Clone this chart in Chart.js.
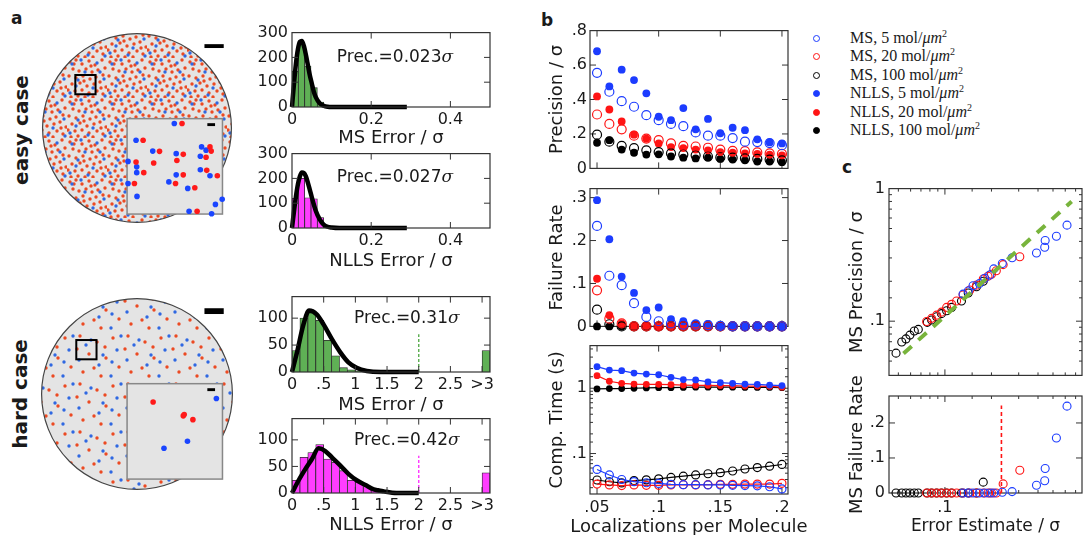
<!DOCTYPE html>
<html>
<head>
<meta charset="utf-8">
<script src="https://cdn.jsdelivr.net/npm/chart.js@4.4.0/dist/chart.umd.min.js"></script>
<style>
  html, body { margin: 0; padding: 0; background: #fff; }
  body { width: 1084px; height: 535px; overflow: hidden; position: relative; font-family: "DejaVu Sans", sans-serif; color: #1a1a1a; }
  canvas { position: absolute; }
  .panel { position: absolute; font-weight: bold; font-size: 17px; line-height: 1; }
  .case { position: absolute; font-weight: bold; font-size: 20px; white-space: nowrap; transform: translate(-50%, -50%) rotate(-90deg); }
  #legend { position: absolute; left: 810px; top: 29px; font-family: "Liberation Serif", serif; font-size: 16px; }
  #legend .row { position: relative; height: 18.4px; line-height: 18.4px; white-space: nowrap; }
  #legend .mk { position: absolute; left: 3px; top: 6px; width: 7px; height: 7px; border-radius: 50%; box-sizing: border-box; }
  #legend .tx { position: absolute; left: 40px; }
  #legend sup { font-size: 10px; vertical-align: 6px; line-height: 0; }
</style>
</head>
<body>
<div class="panel" style="left:11px;top:10px">a</div>
<div class="panel" style="left:541px;top:12px">b</div>
<div class="panel" style="left:842px;top:159px">c</div>
<div class="case" style="left:21px;top:130px">easy case</div>
<div class="case" style="left:20px;top:394px">hard case</div>
<div id="legend"></div>

<canvas id="diskEasy"></canvas>
<canvas id="diskHard"></canvas>
<canvas id="histEasyMs"></canvas>
<canvas id="histEasyNlls"></canvas>
<canvas id="histHardMs"></canvas>
<canvas id="histHardNlls"></canvas>
<canvas id="precChart"></canvas>
<canvas id="failChart"></canvas>
<canvas id="timeChart"></canvas>
<canvas id="calibChart"></canvas>
<canvas id="calibFailChart"></canvas>

<script>
// ---------- data ----------

// panel a, insets: molecule positions inside the zoomed box (0..1 of the box)
const easyInsetBlue = [[.495,.051],[.094,.226],[.269,.340],[.515,.367],[.781,.296],[.828,.330],[.768,.394],[.010,.448],[.101,.505],[.101,.566],[.515,.589],[.768,.535],[.869,.599],[.010,.680],[.438,.663],[.636,.731],[.104,.815],[.997,.845],[.926,.899],[.650,.970],[.886,.997]];
const easyInsetRed = [[.576,.051],[.168,.226],[.340,.343],[.589,.374],[.869,.296],[.882,.340],[.828,.404],[.522,.438],[.094,.455],[.279,.465],[.175,.566],[.589,.589],[.835,.542],[.946,.599],[.077,.680],[.508,.680],[.710,.724],[.734,.970]];
const hardInsetBlue = [[.936,.155],[.633,.603],[.387,.677]];
const hardInsetRed = [[.273,.192],[.589,.337],[.599,.323],[.690,.377]];

// panel a, histograms (bin centres, counts) and fitted curves
const easyBins = [0.008, 0.024, 0.040, 0.056, 0.072, 0.088, 0.104];
const easyMsCounts = [145, 255, 165, 78, 20, 4, 1];
const easyNllsCounts = [120, 200, 122, 118, 42, 10, 3];
const easyMsFitX = [0, .005, .01, .015, .02, .025, .03, .035, .04, .045, .05, .055, .06, .07, .08, .09, .1, .29];
const easyMsFitY = [0, 94, 175, 233, 263, 266, 246, 211, 170, 128, 95, 62, 40, 15, 5, 1, 0, 0];
const easyNllsFitX = [0, .005, .01, .015, .02, .025, .03, .035, .04, .045, .05, .06, .07, .08, .09, .1, .12, .29];
const easyNllsFitY = [0, 67, 128, 177, 209, 224, 222, 208, 183, 154, 124, 70, 35, 14, 5, 2, 0, 0];

const hardBins = [.0625, .1875, .3125, .4375, .5625, .6875, .8125, .9375, 1.0625, 1.1875, 1.3125];
const hardOverflowBin = 3.0625;
const hardMsCounts = [40, 100, 110, 96, 59, 30, 8, 4, 2, 1, 0];
const hardMsOverflow = 40;
const hardNllsCounts = [24, 67, 76, 91, 64, 58, 42, 24, 21, 12, 9];
const hardNllsOverflow = 38;
const hardMsFitX = [0, .08, .18, .27, .39, .5, .63, .76, .89, 1.02, 1.18, 1.4, 2];
const hardMsFitY = [0, 37, 88, 114, 107, 88, 61, 37, 18, 8, 2, 0, 0];
const hardNllsFitX = [0, .105, .21, .315, .42, .525, .63, .76, .89, 1.02, 1.16, 1.29, 1.45, 1.65, 2];
const hardNllsFitY = [0, 24, 45, 64, 84, 79, 67, 52, 36, 24, 15, 7, 3, 0, 0];
const cutoffX = 2, cutoffY = 70;

const precNotes = ['0.023', '0.027', '0.31', '0.42'];

// panel b
const locsPerMolecule = [.05, .06, .07, .08, .09, .10, .11, .12, .13, .14, .15, .16, .17, .18, .19, .20];
const seriesLabels = ['MS, 5', 'MS, 20', 'MS, 100', 'NLLS, 5', 'NLLS, 20', 'NLLS, 100'];

const precMs5 = [.555, .445, .39, .358, .309, .28, .258, .245, .209, .19, .19, .176, .155, .153, .147, .135];
const precMs20 = [.313, .258, .227, .19, .173, .164, .145, .131, .127, .12, .109, .102, .1, .093, .087, .084];
const precMs100 = [.196, .155, .131, .118, .105, .095, .087, .08, .076, .069, .064, .062, .058, .055, .051, .047];
const precNlls5 = [.68, .476, .573, .513, .436, .30, .28, .35, .227, .287, .204, .236, .222, .169, .151, .145];
const precNlls20 = [.418, .342, .273, .196, .173, .145, .124, .118, .109, .105, .095, .091, .087, .084, .08, .076];
const precNlls100 = [.149, .164, .109, .091, .08, .082, .069, .062, .058, .062, .055, .051, .047, .04, .04, .036];

const failMs5 = [.234, .118, .096, .054, .022, .012, .007, .004, .004, .003, .001, 0, 0, 0, 0, 0];
const failMs20 = [.084, .018, .007, 0, 0, 0, 0, 0, 0, 0, 0, 0, 0, 0, 0, 0];
const failMs100 = [.039, .005, 0, 0, 0, 0, 0, 0, 0, 0, 0, 0, 0, 0, 0, 0];
const failNlls5 = [.294, .203, .116, .078, .038, .044, .017, .012, .007, .006, .001, .002, 0, .001, 0, 0];
const failNlls20 = [.111, .026, .007, .001, .001, 0, 0, 0, 0, 0, 0, 0, 0, 0, 0, 0];
const failNlls100 = [0, 0, 0, 0, 0, 0, 0, 0, 0, 0, 0, 0, 0, 0, 0, 0];

const timeMs5 = [.057, .047, .040, .0371, .0357, .0349, .0338, .0334, .0334, .033, .033, .0326, .0323, .032, .031, .0287];
const timeMs20 = [.0341, .033, .0323, .033, .0326, .0326, .033, .0334, .033, .0334, .0338, .0338, .0341, .0341, .0341, .035];
const timeMs100 = [.0393, .037, .0355, .0385, .0395, .041, .043, .045, .047, .049, .051, .054, .058, .061, .064, .068];
const timeNlls5 = [2.14, 1.9, 1.86, 1.71, 1.65, 1.61, 1.47, 1.36, 1.34, 1.25, 1.22, 1.19, 1.16, 1.15, 1.12, 1.1];
const timeNlls20 = [1.56, 1.28, 1.19, 1.16, 1.15, 1.15, 1.14, 1.12, 1.11, 1.11, 1.1, 1.1, 1.08, 1.08, 1.07, 1.04];
const timeNlls100 = [.977, .99, .99, 1.0, 1.01, 1.02, 1.02, 1.03, 1.04, 1.04, 1.04, 1.04, 1.03, 1.03, 1.03, 1.02];

// panel c
const errEstMs5 = [.131, .1415, .152, .167, .181, .195, .207, .235, .272, .391, .442, .445, .526, .616];
const calPrecMs5 = [.16, .169, .185, .192, .211, .223, .248, .272, .301, .327, .361, .406, .437, .53];
const calFailMs5 = [0, 0, 0, 0, 0, 0, 0, .002, .004, .022, .035, .07, .157, .248];
const errEstMs20 = [.0762, .082, .0884, .095, .1026, .1105, .119, .131, .145, .16, .177, .19, .2, .215, .238, .305];
const calPrecMs20 = [.0995, .105, .111, .117, .127, .134, .142, .158, .172, .187, .208, .218, .226, .24, .267, .306];
const calFailMs20 = [0, 0, 0, 0, 0, 0, 0, 0, 0, 0, 0, 0, 0, 0, .026, .065];
const errEstMs100 = [.0483, .0526, .056, .0594, .0634, .0673, .0769, .082, .0884, .095, .1026, .1105, .128, .1415, .16, .177];
const calPrecMs100 = [.0574, .0697, .0735, .0785, .0844, .0867, .098, .102, .108, .114, .12, .127, .142, .163, .182, .2];
const calFailMs100 = [0, 0, 0, 0, 0, 0, 0, 0, 0, 0, 0, 0, 0, 0, 0, .031];
const guideX = [.054, .66];
const guideY = [.057, .80];
const failCutX = .232, failCutY = .25;

// ---------- styling ----------
const BLUE = '#1c3cff', RED = '#ff1414', BLACK = '#000000';
const GREEN_BAR = '#5fb055', MAGENTA_BAR = '#ff3dff', GUIDE_GREEN = '#78b43c';
const INK = '#1a1a1a';
const seriesColors = [BLUE, RED, BLACK, BLUE, RED, BLACK];

Chart.defaults.font.family = '"DejaVu Sans", sans-serif';
Chart.defaults.color = INK;
Chart.defaults.animation = false;

const pts = (xs, ys) => xs.map((x, i) => ({ x, y: ys[i] }));
const fmtDot = v => v === 0 ? '0' : (+v.toFixed(3)).toString().replace(/^0\./, '.');
const isPow10 = v => Math.abs(Math.log10(v) - Math.round(Math.log10(v))) < 1e-6;
const fmtLog = v => isPow10(v) ? (v >= 1 ? String(Math.round(v)) : fmtDot(v)) : '';

// frame with inward ticks on all four sides
function drawFrame(chart) {
  const { ctx, chartArea: a } = chart;
  ctx.save();
  ctx.strokeStyle = '#333';
  ctx.lineWidth = 1.2;
  ctx.strokeRect(a.left, a.top, a.width, a.height);
  ctx.lineWidth = 1;
  for (const s of [chart.scales.x, chart.scales.y]) {
    for (const t of s.ticks) {
      const p = s.getPixelForValue(t.value);
      const len = (s.type === 'logarithmic' && !isPow10(t.value)) ? 3 : 6;
      ctx.beginPath();
      if (s.isHorizontal()) {
        if (p < a.left + 1.5 || p > a.right - 1.5) continue;
        ctx.moveTo(p, a.bottom); ctx.lineTo(p, a.bottom - len);
        ctx.moveTo(p, a.top); ctx.lineTo(p, a.top + len);
      } else {
        if (p < a.top + 1.5 || p > a.bottom - 1.5) continue;
        ctx.moveTo(a.left, p); ctx.lineTo(a.left + len, p);
        ctx.moveTo(a.right, p); ctx.lineTo(a.right - len, p);
      }
      ctx.stroke();
    }
  }
  ctx.restore();
}
const framePlugin = {
  id: 'frame',
  beforeDatasetsDraw(chart, args, o) { if (o.under) drawFrame(chart); },
  afterDatasetsDraw(chart, args, o) { if (!o.under) drawFrame(chart); }
};

// x title that may run wider than the plot (the built-in one is squeezed to the axis width)
const xTitlePlugin = {
  id: 'xTitle',
  afterDraw(chart, args, o) {
    if (!o.text) return;
    const { ctx, chartArea: a } = chart;
    ctx.save();
    ctx.font = o.size + 'px "DejaVu Sans"';
    ctx.fillStyle = INK;
    ctx.textAlign = 'center';
    ctx.textBaseline = 'middle';
    ctx.fillText(o.text, (a.left + a.right) / 2, a.bottom + o.dy);
    ctx.restore();
  }
};

// "Prec.=..σ" note inside the histograms
const notePlugin = {
  id: 'note',
  afterDatasetsDraw(chart, args, o) {
    if (!o.text) return;
    const { ctx, chartArea: a } = chart;
    const x = a.left + o.fx * a.width, y = a.top + o.fy * a.height;
    ctx.save();
    ctx.textBaseline = 'middle';
    ctx.fillStyle = INK;
    ctx.font = '17px "DejaVu Sans"';
    const w1 = ctx.measureText(o.text).width;
    ctx.font = 'italic 17px "DejaVu Serif"';
    const w2 = ctx.measureText('σ').width;
    const sx = x - (w1 + w2) / 2;
    ctx.font = '17px "DejaVu Sans"';
    ctx.fillText(o.text, sx, y);
    ctx.font = 'italic 17px "DejaVu Serif"';
    ctx.fillText('σ', sx + w1, y);
    ctx.restore();
  }
};

// field of view disk with zoom box, inset and scale bars
function makeTile(size, reds, blues, r) {
  const c = document.createElement('canvas');
  c.width = size; c.height = size;
  const g = c.getContext('2d');
  const dot = (p, col) => { g.fillStyle = col; g.beginPath(); g.arc(p[0], p[1], r, 0, Math.PI * 2); g.fill(); };
  reds.forEach(p => dot(p, '#ec4a22'));
  blues.forEach(p => dot(p, '#2f68e2'));
  return c;
}
const diskPlugin = {
  id: 'disk',
  beforeDatasetsDraw(chart, args, o) {
    const { ctx } = chart, sx = chart.scales.x, sy = chart.scales.y;
    const X = v => sx.getPixelForValue(v), Y = v => sy.getPixelForValue(v);
    const rpx = X(o.r) - X(0);
    ctx.save();
    ctx.beginPath();
    ctx.arc(X(0), Y(0), rpx, 0, Math.PI * 2);
    ctx.fillStyle = '#e4e4e4';
    ctx.fill();
    ctx.fillStyle = ctx.createPattern(o.tile, 'repeat');
    ctx.fill();
    ctx.strokeStyle = '#444';
    ctx.lineWidth = 1.2;
    ctx.stroke();
    // zoom box
    ctx.strokeStyle = '#000';
    ctx.lineWidth = 2;
    ctx.strokeRect(X(o.box[0]), Y(o.box[1]), X(o.box[2]) - X(o.box[0]), Y(o.box[3]) - Y(o.box[1]));
    // scale bar
    ctx.fillStyle = '#000';
    ctx.fillRect(X(o.bar[0]), Y(o.bar[1]), X(o.bar[2]) - X(o.bar[0]), Y(o.bar[3]) - Y(o.bar[1]));
    // inset
    const [ix, iy, is] = o.inset;
    ctx.fillStyle = '#e4e4e4';
    ctx.fillRect(X(ix), Y(iy), X(ix + is) - X(ix), Y(iy + is) - Y(iy));
    ctx.strokeStyle = '#888';
    ctx.lineWidth = 1.5;
    ctx.strokeRect(X(ix), Y(iy), X(ix + is) - X(ix), Y(iy + is) - Y(iy));
    ctx.fillStyle = '#000';
    ctx.fillRect(X(o.ibar[0]), Y(o.ibar[1]), X(o.ibar[2]) - X(o.ibar[0]), Y(o.ibar[3]) - Y(o.ibar[1]));
    ctx.restore();
  }
};

// place a canvas so that its plot area lands on the given rectangle
function place(id, r) {
  const c = document.getElementById(id);
  const w = r.x1 - r.x0 + r.ml + r.mr, h = r.y1 - r.y0 + r.mt + r.mb;
  c.width = w; c.height = h;
  c.style.width = w + 'px'; c.style.height = h + 'px';
  c.style.left = (r.x0 - r.ml) + 'px';
  c.style.top = (r.y0 - r.mt) + 'px';
  return c;
}

function baseOptions(r, xScale, yScale, pluginOpts) {
  xScale.afterFit = s => { s.height = r.mb; };
  yScale.afterFit = s => { s.width = r.ml; };
  return {
    responsive: false,
    events: [],
    layout: { padding: { left: 0, top: r.mt, right: r.mr, bottom: 0 } },
    scales: { x: xScale, y: yScale },
    plugins: Object.assign({ legend: { display: false }, tooltip: { enabled: false } }, pluginOpts)
  };
}

function axis(type, min, max, tickOpts, title) {
  return {
    type, min, max,
    grid: { display: false, drawTicks: false },
    border: { display: false },
    ticks: Object.assign({ autoSkip: false, maxRotation: 0, includeBounds: false, padding: 4 }, tickOpts),
    title: title ? { display: true, text: title.text, font: { size: title.size }, color: INK, padding: { top: 4, bottom: 4 } } : { display: false }
  };
}

// ---------- panel a: disks ----------
const easyTile = makeTile(40,
  [[3, 4], [9, 2], [15, 6], [22, 3], [28, 7], [35, 2], [38, 10], [6, 11], [12, 13], [19, 11], [25, 14], [31, 12],
   [2, 18], [9, 20], [16, 18], [23, 21], [29, 19], [36, 17], [5, 26], [13, 25], [20, 28], [27, 26], [33, 24], [39, 29],
   [1, 32], [8, 33], [15, 32], [22, 35], [30, 33], [36, 36], [4, 39], [11, 38], [18, 39], [26, 39], [34, 30], [17, 23], [24, 8], [7, 6]],
  [[5, 6], [18, 14], [30, 5], [11, 22], [26, 30], [37, 21], [3, 35], [21, 37], [14, 2], [33, 14], [9, 28], [38, 38]], 1.7);
const hardTile = makeTile(48,
  [[5, 4], [22, 10], [38, 6], [14, 22], [31, 26], [44, 35], [8, 40], [26, 44], [30, 15], [2, 17], [19, 36]],
  [[16, 8], [42, 18], [4, 28], [24, 33], [36, 44], [46, 4], [11, 13], [37, 30], [28, 23]], 1.7);

function diskChart(id, cx, cy, blues, reds, o) {
  const c = document.getElementById(id);
  c.width = 220; c.height = 220;
  c.style.width = '220px'; c.style.height = '220px';
  c.style.left = (cx - 110) + 'px'; c.style.top = (cy - 110) + 'px';
  const [ix, iy, is] = o.inset;
  const toDisk = p => ({ x: ix + p[0] * is, y: iy + p[1] * is });
  new Chart(c, {
    type: 'scatter',
    data: {
      datasets: [
        { data: reds.map(toDisk), pointBackgroundColor: '#ff1a1a', pointBorderWidth: 0, pointRadius: 2.8, clip: false },
        { data: blues.map(toDisk), pointBackgroundColor: '#1a45ff', pointBorderWidth: 0, pointRadius: 2.8, clip: false }
      ]
    },
    options: {
      responsive: false, events: [],
      layout: { padding: 0 },
      scales: {
        x: { type: 'linear', display: false, min: -1.1, max: 1.1 },
        y: { type: 'linear', display: false, min: -1.1, max: 1.1, reverse: true }
      },
      plugins: { legend: { display: false }, tooltip: { enabled: false }, disk: o }
    },
    plugins: [diskPlugin]
  });
}

diskChart('diskEasy', 137, 128, easyInsetBlue, easyInsetRed, {
  r: 0.98, tile: easyTile, inset: [-0.103, -0.097, 0.99],
  box: [-0.64, -0.55, -0.43, -0.35], bar: [0.70, -0.87, 0.90, -0.83], ibar: [0.73, -0.05, 0.81, -0.02]
});
diskChart('diskHard', 137, 394, hardInsetBlue, hardInsetRed, {
  r: 0.99, tile: hardTile, inset: [-0.103, -0.107, 0.99],
  box: [-0.63, -0.56, -0.42, -0.36], bar: [0.70, -0.89, 0.90, -0.83], ibar: [0.73, -0.06, 0.81, -0.03]
});

// ---------- panel a: histograms ----------
function histChart(id, r, h) {
  const c = place(id, r);
  const datasets = [
    { type: 'line', order: 0, data: pts(h.fitX, h.fitY), borderColor: '#000', borderWidth: 4.5,
      pointRadius: 0, cubicInterpolationMode: 'monotone', clip: false },
    { type: 'bar', order: 2, data: pts(h.bins, h.counts), backgroundColor: h.color,
      borderColor: '#2a2a2a', borderWidth: 0.8, barPercentage: 1, categoryPercentage: 1 }
  ];
  if (h.cut) {
    datasets.push({ type: 'line', order: 1, data: [{ x: cutoffX, y: 0 }, { x: cutoffX, y: cutoffY }],
      borderColor: h.color, borderWidth: 1.5, borderDash: [3, 2], pointRadius: 0 });
  }
  const xs = axis('linear', 0, h.xMax, { stepSize: h.xStep, font: { size: 16 }, callback: h.xFmt, padding: 3 }, { text: h.xTitle, size: 18 });
  xs.offset = false;
  const ys = axis('linear', 0, h.yMax, { stepSize: h.yStep, font: { size: 16 } });
  new Chart(c, {
    type: 'bar',
    data: { datasets },
    options: baseOptions(r, xs, ys, { frame: { under: false }, note: { text: 'Prec.=' + h.note, fx: h.fx, fy: h.fy } }),
    plugins: [framePlugin, notePlugin]
  });
}

const easyXFmt = v => v === 0 ? '0' : v.toFixed(1);
const hardXFmt = v => v >= 3 ? '>3' : fmtDot(v);

histChart('histEasyMs', { x0: 292, y0: 31, x1: 490, y1: 107, ml: 50, mr: 12, mt: 12, mb: 46 }, {
  bins: easyBins, counts: easyMsCounts, fitX: easyMsFitX, fitY: easyMsFitY, color: GREEN_BAR,
  xMax: 0.5, xStep: 0.2, xFmt: easyXFmt, yMax: 300, yStep: 100, xTitle: 'MS Error / σ',
  note: precNotes[0], fx: 0.52, fy: 0.33
});
histChart('histEasyNlls', { x0: 292, y0: 152, x1: 490, y1: 228, ml: 50, mr: 12, mt: 12, mb: 48 }, {
  bins: easyBins, counts: easyNllsCounts, fitX: easyNllsFitX, fitY: easyNllsFitY, color: MAGENTA_BAR,
  xMax: 0.5, xStep: 0.2, xFmt: easyXFmt, yMax: 300, yStep: 100, xTitle: 'NLLS Error / σ',
  note: precNotes[1], fx: 0.52, fy: 0.32
});
histChart('histHardMs', { x0: 292, y0: 295, x1: 490, y1: 372, ml: 50, mr: 12, mt: 12, mb: 48 }, {
  bins: hardBins.concat([hardOverflowBin]), counts: hardMsCounts.concat([hardMsOverflow]),
  fitX: hardMsFitX, fitY: hardMsFitY, color: GREEN_BAR, cut: true,
  xMax: 3.125, xStep: 0.5, xFmt: hardXFmt, yMax: 140, yStep: 50, xTitle: 'MS Error / σ',
  note: precNotes[2], fx: 0.58, fy: 0.29
});
histChart('histHardNlls', { x0: 292, y0: 417, x1: 490, y1: 493, ml: 50, mr: 12, mt: 12, mb: 47 }, {
  bins: hardBins.concat([hardOverflowBin]), counts: hardNllsCounts.concat([hardNllsOverflow]),
  fitX: hardNllsFitX, fitY: hardNllsFitY, color: MAGENTA_BAR, cut: true,
  xMax: 3.125, xStep: 0.5, xFmt: hardXFmt, yMax: 140, yStep: 50, xTitle: 'NLLS Error / σ',
  note: precNotes[3], fx: 0.58, fy: 0.29
});

// ---------- panel b ----------
function markerSet(i, xs, ys, withLine, size) {
  const col = seriesColors[i], filled = i >= 3;
  return {
    label: seriesLabels[i],
    data: pts(xs, ys),
    showLine: withLine,
    borderColor: col,
    borderWidth: 1.2,
    pointBackgroundColor: filled ? col : 'rgba(0,0,0,0)',
    pointBorderColor: col,
    pointBorderWidth: filled ? 0 : 1.2,
    pointRadius: filled ? size - 0.6 : size,
    clip: false
  };
}

function panelB(id, r, series, yAxis, withLine, showX, size) {
  const c = place(id, r);
  const xs = axis('linear', 0.0443, 0.2049, { stepSize: 0.05, display: showX, font: { size: 16 }, callback: fmtDot });
  new Chart(c, {
    type: 'scatter',
    data: { datasets: series.map((ys, i) => markerSet(i, locsPerMolecule, ys, withLine, size)) },
    options: baseOptions(r, xs, yAxis, {
      frame: { under: true },
      xTitle: showX ? { text: 'Localizations per Molecule', size: 18, dy: 33 } : {}
    }),
    plugins: [framePlugin, xTitlePlugin]
  });
}

panelB('precChart', { x0: 590, y0: 30, x1: 788, y1: 177, ml: 47, mr: 12, mt: 12, mb: 4 },
  [precMs5, precMs20, precMs100, precNlls5, precNlls20, precNlls100],
  axis('linear', 0, 0.8, { stepSize: 0.2, font: { size: 16 }, callback: fmtDot, padding: 3 }, { text: 'Precision / σ', size: 18 }),
  false, false, 4.5);
panelB('failChart', { x0: 590, y0: 188, x1: 788, y1: 335, ml: 47, mr: 12, mt: 12, mb: 4 },
  [failMs5, failMs20, failMs100, failNlls5, failNlls20, failNlls100],
  axis('linear', 0, 0.321, { stepSize: 0.1, font: { size: 16 }, callback: fmtDot, padding: 3 }, { text: 'Failure Rate', size: 18 }),
  false, false, 4.5);
panelB('timeChart', { x0: 590, y0: 345, x1: 788, y1: 494, ml: 47, mr: 30, mt: 12, mb: 48 },
  [timeMs5, timeMs20, timeMs100, timeNlls5, timeNlls20, timeNlls100],
  axis('logarithmic', 0.024, 4.5, { font: { size: 16 }, callback: fmtLog, padding: 3 }, { text: 'Comp. Time (s)', size: 18 }),
  true, true, 4);

// legend for panel b
const legendEl = document.getElementById('legend');
seriesLabels.forEach((lab, i) => {
  const col = seriesColors[i], filled = i >= 3;
  const row = document.createElement('div');
  row.className = 'row';
  row.innerHTML = '<span class="mk" style="border:1.2px solid ' + col + ';background:' + (filled ? col : 'transparent') + '"></span>' +
    '<span class="tx">' + lab + ' mol/<i>μm</i><sup>2</sup></span>';
  legendEl.appendChild(row);
});

// ---------- panel c ----------
function openPts(xs, ys, col) {
  return { data: pts(xs, ys), showLine: false, pointBackgroundColor: 'rgba(0,0,0,0)', pointBorderColor: col,
    pointBorderWidth: 1.1, pointRadius: 4, clip: false };
}

(function () {
  const r = { x0: 889, y0: 187, x1: 1082, y1: 385, ml: 46, mr: 12, mt: 12, mb: 4 };
  const c = place('calibChart', r);
  const xs = axis('logarithmic', 0.0435, 0.77, { display: false, callback: fmtLog });
  const ys = axis('logarithmic', 0.039, 1.0, { font: { size: 16 }, callback: fmtLog }, { text: 'MS Precision / σ', size: 18 });
  new Chart(c, {
    type: 'scatter',
    data: {
      datasets: [
        { data: pts(guideX, guideY), showLine: true, borderColor: GUIDE_GREEN, borderWidth: 4, borderDash: [11, 9], pointRadius: 0 },
        openPts(errEstMs5, calPrecMs5, BLUE),
        openPts(errEstMs20, calPrecMs20, RED),
        openPts(errEstMs100, calPrecMs100, BLACK)
      ]
    },
    options: baseOptions(r, xs, ys, { frame: { under: true } }),
    plugins: [framePlugin]
  });
})();

(function () {
  const r = { x0: 889, y0: 396, x1: 1082, y1: 493, ml: 46, mr: 12, mt: 40, mb: 48 };
  const c = place('calibFailChart', r);
  const xs = axis('logarithmic', 0.0435, 0.77, { font: { size: 16 }, callback: fmtLog, padding: 5 }, { text: 'Error Estimate / σ', size: 17 });
  const ys = axis('linear', 0, 0.277, { stepSize: 0.1, font: { size: 16 }, callback: fmtDot }, { text: 'MS Failure Rate', size: 18 });
  new Chart(c, {
    type: 'scatter',
    data: {
      datasets: [
        openPts(errEstMs5, calFailMs5, BLUE),
        openPts(errEstMs20, calFailMs20, RED),
        openPts(errEstMs100, calFailMs100, BLACK),
        { data: [{ x: failCutX, y: 0 }, { x: failCutX, y: failCutY }], showLine: true, borderColor: RED,
          borderWidth: 1.6, borderDash: [4, 3], pointRadius: 0 }
      ]
    },
    options: baseOptions(r, xs, ys, { frame: { under: true } }),
    plugins: [framePlugin]
  });
})();
</script>
</body>
</html>
